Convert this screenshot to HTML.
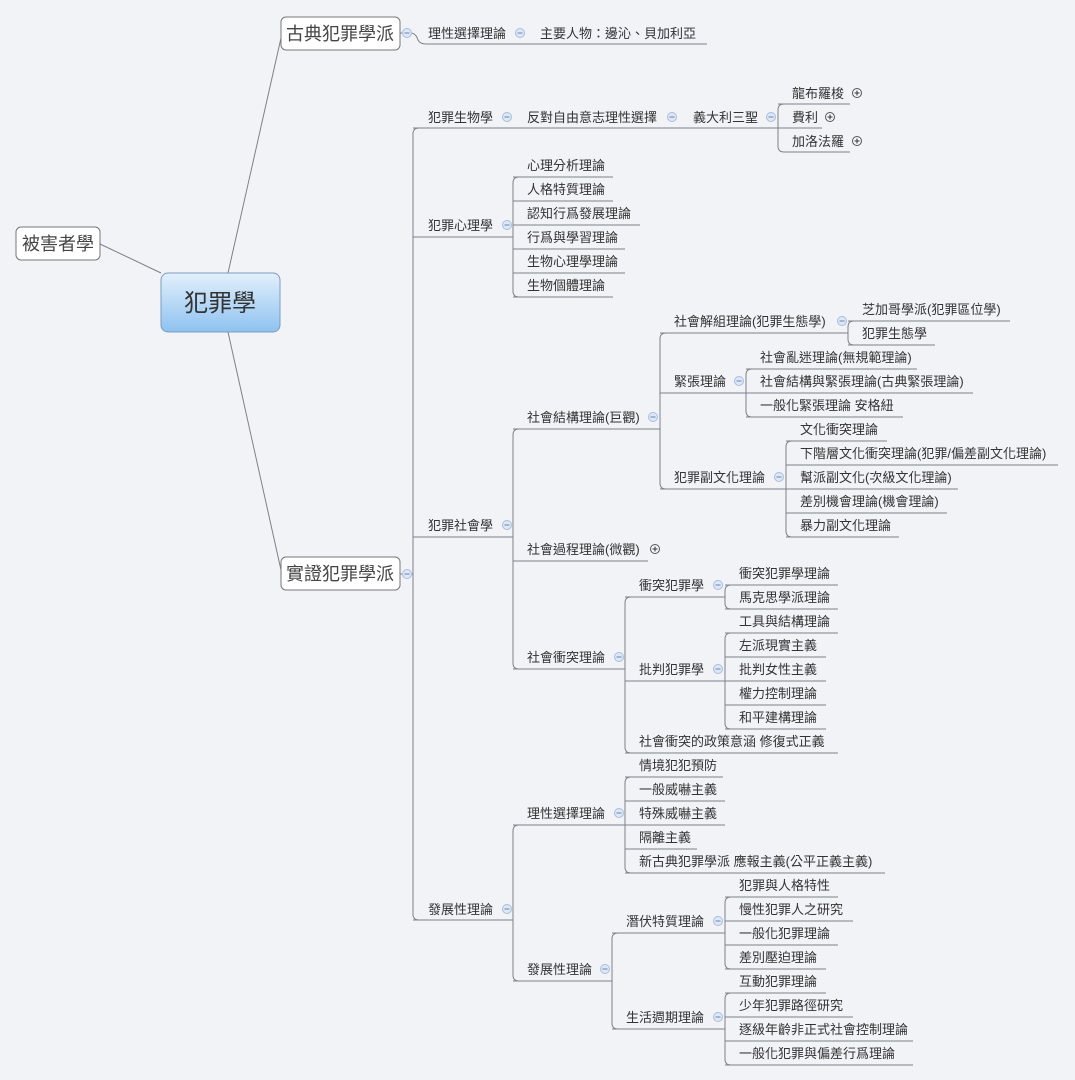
<!DOCTYPE html>
<html><head><meta charset="utf-8"><style>
html,body{margin:0;padding:0;background:#f2f3f7;}
svg{display:block;}
text{font-family:"Liberation Sans","Noto Sans CJK TC","Noto Sans CJK SC",sans-serif;font-size:13px;fill:#333;}
.l{stroke:#7c8088;stroke-width:1;fill:none;}
.ic circle{fill:#dde7f5;stroke:#a9bddb;stroke-width:1;}
.ic line{stroke:#6b86b0;stroke-width:1;}
</style></head><body>
<svg width="1075" height="1080" viewBox="0 0 1075 1080" xmlns="http://www.w3.org/2000/svg">
<defs>
<linearGradient id="g" x1="0" y1="0" x2="0" y2="1"><stop offset="0" stop-color="#e3f0fc"/><stop offset="1" stop-color="#8ec2f0"/></linearGradient>
<g id="mi" class="ic"><circle cx="0" cy="0" r="4.5"/><line x1="-2.5" y1="0" x2="2.5" y2="0"/></g>
<g id="pl" class="ic"><circle cx="0" cy="0" r="4.5" style="fill:#f4f6fa;stroke:#555"/><line x1="-2.5" y1="0" x2="2.5" y2="0" style="stroke:#333"/><line x1="0" y1="-2.5" x2="0" y2="2.5" style="stroke:#333"/></g>
</defs>

<!-- main connectors -->
<path class="l" d="M100,244 L161,273"/>
<path class="l" d="M228,273 L281,38"/>
<path class="l" d="M228,332 L281,570"/>

<!-- boxes -->
<rect x="16" y="227" width="84" height="33" rx="5" fill="#fff" stroke="#777"/>
<text x="58" y="250" text-anchor="middle" style="font-size:18px;fill:#444">被害者學</text>
<rect x="161" y="273" width="119" height="59" rx="7" fill="url(#g)" stroke="#7a9cc0"/>
<text x="220" y="311" text-anchor="middle" style="font-size:24px;fill:#333">犯罪學</text>
<rect x="281" y="17" width="119" height="33" rx="5" fill="#fff" stroke="#777"/>
<text x="340" y="40" text-anchor="middle" style="font-size:18px;fill:#444">古典犯罪學派</text>
<rect x="281" y="557" width="119" height="33" rx="5" fill="#fff" stroke="#777"/>
<text x="340" y="580" text-anchor="middle" style="font-size:18px;fill:#444">實證犯罪學派</text>

<!-- classical branch -->
<path class="l" d="M400,33 L410,33 Q416,33 418,40 Q420,44 426,44 L707,44"/>
<text x="428" y="38">理性選擇理論</text>
<text x="540" y="38">主要人物：邊沁、貝加利亞</text>
<use href="#mi" x="407" y="33"/><use href="#mi" x="520" y="33"/>

<!-- positivist trunk -->
<path class="l" d="M400,574 L413,574"/>
<path class="l" d="M419,128 Q413,128 413,134 L413,914 Q413,920 419,920"/>
<use href="#mi" x="407" y="574"/>

<!-- 犯罪生物學 chain -->
<path class="l" d="M413,128 L778,128"/>
<text x="428" y="122">犯罪生物學</text>
<text x="527" y="122">反對自由意志理性選擇</text>
<text x="693" y="122">義大利三聖</text>
<use href="#mi" x="507" y="117"/><use href="#mi" x="672" y="117"/><use href="#mi" x="771" y="117"/>
<path class="l" d="M784,104 Q778,104 778,110 L778,146 Q778,152 784,152 L850,152 M778,104 L850,104 M778,128 L822,128"/>
<text x="792" y="98">龍布羅梭</text><use href="#pl" x="857" y="93"/>
<text x="792" y="122">費利</text><use href="#pl" x="830" y="117"/>
<text x="792" y="146">加洛法羅</text><use href="#pl" x="857" y="141"/>

<!-- 犯罪心理學 -->
<path class="l" d="M413,237 L513,237"/>
<text x="428" y="230">犯罪心理學</text><use href="#mi" x="507" y="225"/>
<path class="l" d="M519,177 Q513,177 513,183 L513,291 Q513,297 519,297"/>
<path class="l" d="M513,177 L613,177 M513,201 L613,201 M513,225 L640,225 M513,249 L625,249 M513,273 L625,273 M513,297 L613,297"/>
<text x="527" y="170">心理分析理論</text>
<text x="527" y="194">人格特質理論</text>
<text x="527" y="218">認知行爲發展理論</text>
<text x="527" y="242">行爲與學習理論</text>
<text x="527" y="266">生物心理學理論</text>
<text x="527" y="290">生物個體理論</text>

<!-- 犯罪社會學 -->
<path class="l" d="M413,537 L513,537"/>
<text x="428" y="530">犯罪社會學</text><use href="#mi" x="507" y="525"/>
<path class="l" d="M519,429 Q513,429 513,435 L513,663 Q513,669 519,669"/>
<path class="l" d="M513,429 L660,429 M513,561 L648,561 M513,669 L625,669"/>
<text x="527" y="422">社會結構理論(巨觀)</text><use href="#mi" x="653" y="417"/>
<text x="527" y="554">社會過程理論(微觀)</text><use href="#pl" x="655" y="549"/>
<text x="527" y="662">社會衝突理論</text><use href="#mi" x="619" y="657"/>

<!-- 社會結構 children -->
<path class="l" d="M666,333 Q660,333 660,339 L660,483 Q660,489 666,489"/>
<path class="l" d="M660,333 L848,333 M660,393 L746,393 M660,489 L786,489"/>
<text x="674" y="326">社會解組理論(犯罪生態學)</text><use href="#mi" x="842" y="321"/>
<text x="674" y="386">緊張理論</text><use href="#mi" x="739" y="381"/>
<text x="674" y="482">犯罪副文化理論</text><use href="#mi" x="779" y="477"/>

<path class="l" d="M854,321 Q848,321 848,327 L848,339 Q848,345 854,345"/>
<path class="l" d="M848,321 L1010,321 M848,345 L935,345"/>
<text x="862" y="314">芝加哥學派(犯罪區位學)</text>
<text x="862" y="338">犯罪生態學</text>

<path class="l" d="M752,369 Q746,369 746,375 L746,411 Q746,417 752,417"/>
<path class="l" d="M746,369 L917,369 M746,393 L973,393 M746,417 L903,417"/>
<text x="760" y="362">社會亂迷理論(無規範理論)</text>
<text x="760" y="386">社會結構與緊張理論(古典緊張理論)</text>
<text x="760" y="410">一般化緊張理論 安格紐</text>

<path class="l" d="M792,441 Q786,441 786,447 L786,531 Q786,537 792,537"/>
<path class="l" d="M786,441 L887,441 M786,465 L1058,465 M786,489 L958,489 M786,513 L947,513 M786,537 L899,537"/>
<text x="800" y="434">文化衝突理論</text>
<text x="800" y="458">下階層文化衝突理論(犯罪/偏差副文化理論)</text>
<text x="800" y="482">幫派副文化(次級文化理論)</text>
<text x="800" y="506">差別機會理論(機會理論)</text>
<text x="800" y="530">暴力副文化理論</text>

<!-- 社會衝突 children -->
<path class="l" d="M631,597 Q625,597 625,603 L625,747 Q625,753 631,753"/>
<path class="l" d="M625,597 L725,597 M625,681 L725,681 M625,753 L838,753"/>
<text x="639" y="590">衝突犯罪學</text><use href="#mi" x="718" y="585"/>
<text x="639" y="674">批判犯罪學</text><use href="#mi" x="718" y="669"/>
<text x="639" y="746">社會衝突的政策意涵 修復式正義</text>

<path class="l" d="M731,585 Q725,585 725,591 L725,603 Q725,609 731,609"/>
<path class="l" d="M725,585 L838,585 M725,609 L838,609"/>
<text x="739" y="578">衝突犯罪學理論</text>
<text x="739" y="602">馬克思學派理論</text>

<path class="l" d="M731,633 Q725,633 725,639 L725,723 Q725,729 731,729"/>
<path class="l" d="M725,633 L838,633 M725,657 L826,657 M725,681 L826,681 M725,705 L826,705 M725,729 L826,729"/>
<text x="739" y="626">工具與結構理論</text>
<text x="739" y="650">左派現實主義</text>
<text x="739" y="674">批判女性主義</text>
<text x="739" y="698">權力控制理論</text>
<text x="739" y="722">和平建構理論</text>

<!-- 發展性理論 -->
<path class="l" d="M413,920 L513,920"/>
<text x="428" y="914">發展性理論</text><use href="#mi" x="507" y="909"/>
<path class="l" d="M519,825 Q513,825 513,831 L513,975 Q513,981 519,981"/>
<path class="l" d="M513,825 L625,825 M513,981 L612,981"/>
<text x="527" y="818">理性選擇理論</text><use href="#mi" x="619" y="813"/>
<text x="527" y="974">發展性理論</text><use href="#mi" x="605" y="969"/>

<path class="l" d="M631,777 Q625,777 625,783 L625,867 Q625,873 631,873"/>
<path class="l" d="M625,777 L723,777 M625,801 L725,801 M625,825 L725,825 M625,849 L697,849 M625,873 L885,873"/>
<text x="639" y="770">情境犯犯預防</text>
<text x="639" y="794">一般威嚇主義</text>
<text x="639" y="818">特殊威嚇主義</text>
<text x="639" y="842">隔離主義</text>
<text x="639" y="866">新古典犯罪學派 應報主義(公平正義主義)</text>

<path class="l" d="M618,933 Q612,933 612,939 L612,1023 Q612,1029 618,1029"/>
<path class="l" d="M612,933 L725,933 M612,1029 L725,1029"/>
<text x="626" y="926">潛伏特質理論</text><use href="#mi" x="718" y="921"/>
<text x="626" y="1022">生活週期理論</text><use href="#mi" x="718" y="1017"/>

<path class="l" d="M731,897 Q725,897 725,903 L725,963 Q725,969 731,969"/>
<path class="l" d="M725,897 L838,897 M725,921 L853,921 M725,945 L838,945 M725,969 L826,969"/>
<text x="739" y="890">犯罪與人格特性</text>
<text x="739" y="914">慢性犯罪人之研究</text>
<text x="739" y="938">一般化犯罪理論</text>
<text x="739" y="962">差別壓迫理論</text>

<path class="l" d="M731,993 Q725,993 725,999 L725,1059 Q725,1065 731,1065"/>
<path class="l" d="M725,993 L826,993 M725,1017 L853,1017 M725,1041 L913,1041 M725,1065 L913,1065"/>
<text x="739" y="986">互動犯罪理論</text>
<text x="739" y="1010">少年犯罪路徑研究</text>
<text x="739" y="1034">逐級年齡非正式社會控制理論</text>
<text x="739" y="1058">一般化犯罪與偏差行爲理論</text>
</svg>
</body></html>
